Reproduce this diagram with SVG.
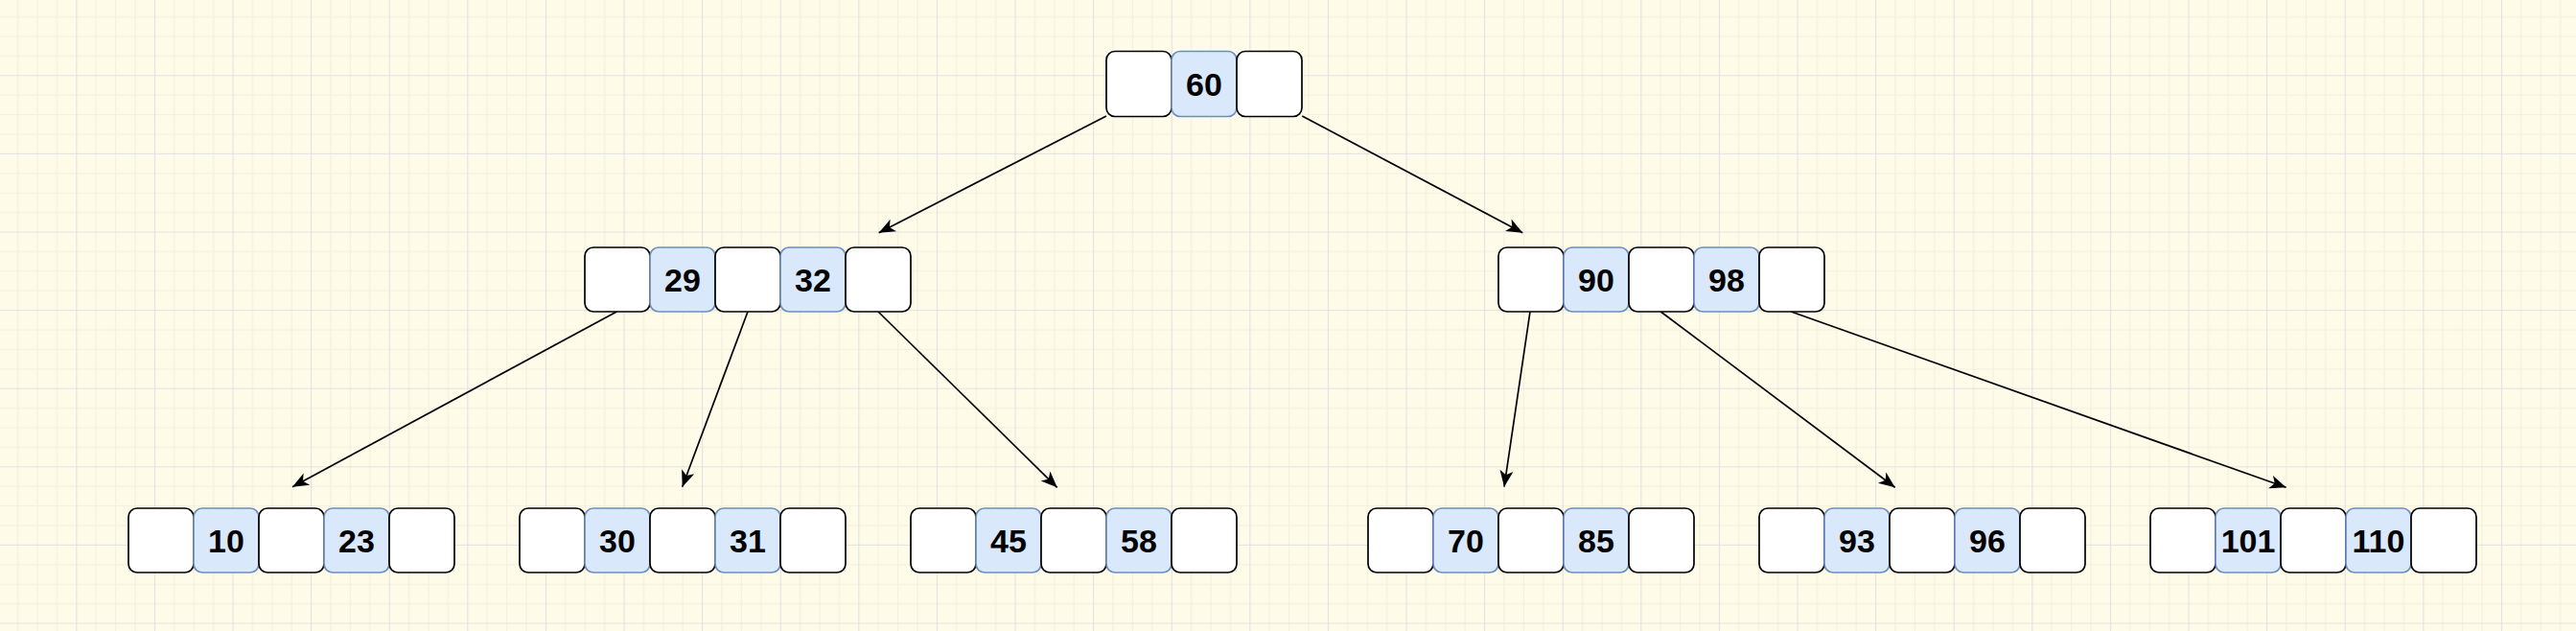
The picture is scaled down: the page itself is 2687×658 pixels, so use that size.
<svg xmlns="http://www.w3.org/2000/svg" width="2687" height="658" viewBox="0 0 2687 658">
<style>
.w{fill:#ffffff;stroke:#000000;stroke-width:1.7}
.b{fill:#dae8fc;stroke:#6c8ebf;stroke-width:1.7}
.t{font-family:"Liberation Sans",Arial,Helvetica,sans-serif;font-size:34px;font-weight:bold;fill:#000000;text-anchor:middle}
.e{stroke:#000000;stroke-width:1.7;fill:none;marker-end:url(#arr)}
</style>
<defs>
<pattern id="grid" patternUnits="userSpaceOnUse" x="-2.3" y="-3.3" width="81.6" height="81.6">
<path d="M20.9 0V81.6M41.3 0V81.6M61.7 0V81.6M0 20.9H81.6M0 41.3H81.6M0 61.7H81.6" stroke="#f3f0e0" stroke-width="1.2" fill="none"/>
<path d="M0.5 0V81.6M0 0.5H81.6" stroke="#e2e1e3" stroke-width="1.2" fill="none"/>
</pattern>
<marker id="arr" markerUnits="userSpaceOnUse" markerWidth="20" markerHeight="16" viewBox="-18 -8 20 16" refX="0" refY="0" orient="auto">
<path d="M0 0L-17 -7L-12.5 0L-17 7Z" fill="#000000"/>
</marker>
</defs>
<rect x="0" y="0" width="2687" height="658" fill="#fffbe9"/>
<rect x="0" y="0" width="2687" height="658" fill="url(#grid)"/>
<g id="connectors">
<line class="e" x1="1154" y1="121" x2="916.7" y2="242.7"/>
<line class="e" x1="1358.3" y1="121" x2="1588.3" y2="242.7"/>
<line class="e" x1="643.3" y1="325" x2="305" y2="507.7"/>
<line class="e" x1="780" y1="325" x2="711.7" y2="507.7"/>
<line class="e" x1="916" y1="325" x2="1102.7" y2="508.3"/>
<line class="e" x1="1596" y1="325" x2="1569" y2="507.7"/>
<line class="e" x1="1732.3" y1="325" x2="1976.7" y2="508.3"/>
<line class="e" x1="1868.3" y1="325" x2="2384.6" y2="508.3"/>
</g>
<g id="root">
<rect class="w" x="1154" y="53.5" width="68" height="68" rx="9"/>
<rect class="b" x="1222" y="53.5" width="68" height="68" rx="9"/>
<rect class="w" x="1290" y="53.5" width="68" height="68" rx="9"/>
<text class="t" x="1256" y="99.5">60</text>
</g>
<g id="mid-left">
<rect class="w" x="610" y="258" width="68" height="67" rx="9"/>
<rect class="b" x="678" y="258" width="68" height="67" rx="9"/>
<rect class="w" x="746" y="258" width="68" height="67" rx="9"/>
<rect class="b" x="814" y="258" width="68" height="67" rx="9"/>
<rect class="w" x="882" y="258" width="68" height="67" rx="9"/>
<text class="t" x="712" y="303.5">29</text>
<text class="t" x="848" y="303.5">32</text>
</g>
<g id="mid-right">
<rect class="w" x="1563" y="258" width="68" height="67" rx="9"/>
<rect class="b" x="1631" y="258" width="68" height="67" rx="9"/>
<rect class="w" x="1699" y="258" width="68" height="67" rx="9"/>
<rect class="b" x="1767" y="258" width="68" height="67" rx="9"/>
<rect class="w" x="1835" y="258" width="68" height="67" rx="9"/>
<text class="t" x="1665" y="303.5">90</text>
<text class="t" x="1801" y="303.5">98</text>
</g>
<g id="leaf1">
<rect class="w" x="134" y="530" width="68" height="67" rx="9"/>
<rect class="b" x="202" y="530" width="68" height="67" rx="9"/>
<rect class="w" x="270" y="530" width="68" height="67" rx="9"/>
<rect class="b" x="338" y="530" width="68" height="67" rx="9"/>
<rect class="w" x="406" y="530" width="68" height="67" rx="9"/>
<text class="t" x="236" y="575.5">10</text>
<text class="t" x="372" y="575.5">23</text>
</g>
<g id="leaf2">
<rect class="w" x="542" y="530" width="68" height="67" rx="9"/>
<rect class="b" x="610" y="530" width="68" height="67" rx="9"/>
<rect class="w" x="678" y="530" width="68" height="67" rx="9"/>
<rect class="b" x="746" y="530" width="68" height="67" rx="9"/>
<rect class="w" x="814" y="530" width="68" height="67" rx="9"/>
<text class="t" x="644" y="575.5">30</text>
<text class="t" x="780" y="575.5">31</text>
</g>
<g id="leaf3">
<rect class="w" x="950" y="530" width="68" height="67" rx="9"/>
<rect class="b" x="1018" y="530" width="68" height="67" rx="9"/>
<rect class="w" x="1086" y="530" width="68" height="67" rx="9"/>
<rect class="b" x="1154" y="530" width="68" height="67" rx="9"/>
<rect class="w" x="1222" y="530" width="68" height="67" rx="9"/>
<text class="t" x="1052" y="575.5">45</text>
<text class="t" x="1188" y="575.5">58</text>
</g>
<g id="leaf4">
<rect class="w" x="1427" y="530" width="68" height="67" rx="9"/>
<rect class="b" x="1495" y="530" width="68" height="67" rx="9"/>
<rect class="w" x="1563" y="530" width="68" height="67" rx="9"/>
<rect class="b" x="1631" y="530" width="68" height="67" rx="9"/>
<rect class="w" x="1699" y="530" width="68" height="67" rx="9"/>
<text class="t" x="1529" y="575.5">70</text>
<text class="t" x="1665" y="575.5">85</text>
</g>
<g id="leaf5">
<rect class="w" x="1835" y="530" width="68" height="67" rx="9"/>
<rect class="b" x="1903" y="530" width="68" height="67" rx="9"/>
<rect class="w" x="1971" y="530" width="68" height="67" rx="9"/>
<rect class="b" x="2039" y="530" width="68" height="67" rx="9"/>
<rect class="w" x="2107" y="530" width="68" height="67" rx="9"/>
<text class="t" x="1937" y="575.5">93</text>
<text class="t" x="2073" y="575.5">96</text>
</g>
<g id="leaf6">
<rect class="w" x="2243" y="530" width="68" height="67" rx="9"/>
<rect class="b" x="2311" y="530" width="68" height="67" rx="9"/>
<rect class="w" x="2379" y="530" width="68" height="67" rx="9"/>
<rect class="b" x="2447" y="530" width="68" height="67" rx="9"/>
<rect class="w" x="2515" y="530" width="68" height="67" rx="9"/>
<text class="t" x="2345" y="575.5">101</text>
<text class="t" x="2481" y="575.5">110</text>
</g>
</svg>
